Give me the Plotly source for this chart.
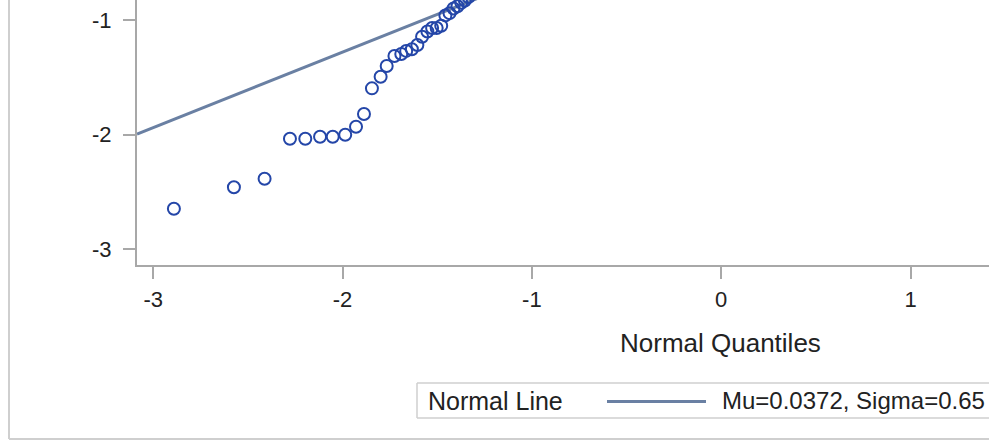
import plotly.graph_objects as go

# ---- data ----
normal_quantiles = [-2.891, -2.574, -2.412, -2.278, -2.197, -2.119, -2.052, -1.986,
                    -1.929, -1.887, -1.845, -1.799, -1.767, -1.726, -1.690, -1.664,
                    -1.634, -1.605, -1.580, -1.552, -1.527, -1.503, -1.479, -1.457,
                    -1.435, -1.414, -1.393, -1.373, -1.354, -1.335]
residuals = [-2.648, -2.461, -2.386, -2.037, -2.037, -2.019, -2.019, -2.002,
             -1.932, -1.821, -1.597, -1.495, -1.402, -1.314, -1.297, -1.270,
             -1.256, -1.218, -1.146, -1.100, -1.070, -1.070, -1.050, -0.960,
             -0.940, -0.900, -0.880, -0.850, -0.830, -0.800]
mu = 0.0372
sigma = 0.659
x_ticks = [-3, -2, -1, 0, 1]
y_ticks = [-3, -2, -1]
legend_label = "Normal Line"
legend_stats = "Mu=0.0372, Sigma=0.65"
x_title = "Normal Quantiles"

W, H = 989, 441                 # picture is cropped at x=989, rest of page is white
L, R, T, B = 137, 989, 0, 265   # plot area in pixels
x_range = [-3.086, 1.4147]
y_range = [-3.1397, -0.8253]

def px(x):
    return (x - L) / (R - L)

def py(y):
    return (B - y) / (B - T)

fig = go.Figure()

line_x = list(x_range)
line_y = [mu + sigma * v for v in line_x]
fig.add_trace(go.Scatter(x=line_x, y=line_y, mode="lines",
                         line=dict(color="#6A80A3", width=3), hoverinfo="skip"))
fig.add_trace(go.Scatter(x=normal_quantiles, y=residuals, mode="markers",
                         marker=dict(symbol="circle-open", size=12, color="#2446A8",
                                     line=dict(width=2, color="#2446A8"))))

grey = "#A8A8A8"
tickfont = dict(family="Liberation Sans, Arial, sans-serif", size=22, color="#222222")
fig.update_xaxes(range=x_range, tickvals=x_ticks, ticktext=[str(v) for v in x_ticks],
                 showline=True, linecolor=grey, linewidth=2, ticks="outside",
                 ticklen=12, tickcolor=grey, tickwidth=2, showgrid=False, zeroline=False,
                 tickfont=tickfont, ticklabelstandoff=2)
fig.update_yaxes(range=y_range, tickvals=y_ticks, ticktext=[str(v) for v in y_ticks],
                 showline=True, linecolor=grey, linewidth=2, ticks="outside",
                 ticklen=12, tickcolor=grey, tickwidth=2, showgrid=False, zeroline=False,
                 tickfont=tickfont, ticklabelstandoff=7)

border = "#CFCFCF"
shapes = [
    dict(type="line", xref="paper", yref="paper", x0=px(9), x1=px(9), y0=py(-5), y1=py(439),
         line=dict(color=border, width=2)),
    dict(type="line", xref="paper", yref="paper", x0=px(9), x1=px(R + 5), y0=py(439), y1=py(439),
         line=dict(color=border, width=2)),
    # legend box (cropped on the right)
    dict(type="line", xref="paper", yref="paper", x0=px(417), x1=px(R + 5), y0=py(383), y1=py(383),
         line=dict(color=border, width=1.5)),
    dict(type="line", xref="paper", yref="paper", x0=px(417), x1=px(R + 5), y0=py(418), y1=py(418),
         line=dict(color=border, width=1.5)),
    dict(type="line", xref="paper", yref="paper", x0=px(417), x1=px(417), y0=py(383), y1=py(418),
         line=dict(color=border, width=1.5)),
    dict(type="line", xref="paper", yref="paper", x0=px(607), x1=px(706), y0=py(401.5), y1=py(401.5),
         line=dict(color="#6A80A3", width=3)),
]

txt = dict(family="Liberation Sans, Arial, sans-serif", color="#222222")
annotations = [
    dict(text=x_title, xref="paper", yref="paper", x=px(720), y=py(343),
         showarrow=False, xanchor="center", yanchor="middle", font=dict(size=26, **txt)),
    dict(text=legend_label, xref="paper", yref="paper", x=px(426), y=py(401),
         showarrow=False, xanchor="left", yanchor="middle", font=dict(size=25, **txt)),
    dict(text=legend_stats, xref="paper", yref="paper", x=px(720), y=py(401),
         showarrow=False, xanchor="left", yanchor="middle", font=dict(size=24, **txt)),
]

fig.update_layout(width=W, height=H, margin=dict(l=L, r=W - R, t=T, b=H - B, pad=0),
                  paper_bgcolor="white", plot_bgcolor="white", showlegend=False,
                  shapes=shapes, annotations=annotations)

fig.write_html("out.html", config={"displayModeBar": False},
               post_script="document.body.style.margin='0';document.body.style.overflow='hidden';")
